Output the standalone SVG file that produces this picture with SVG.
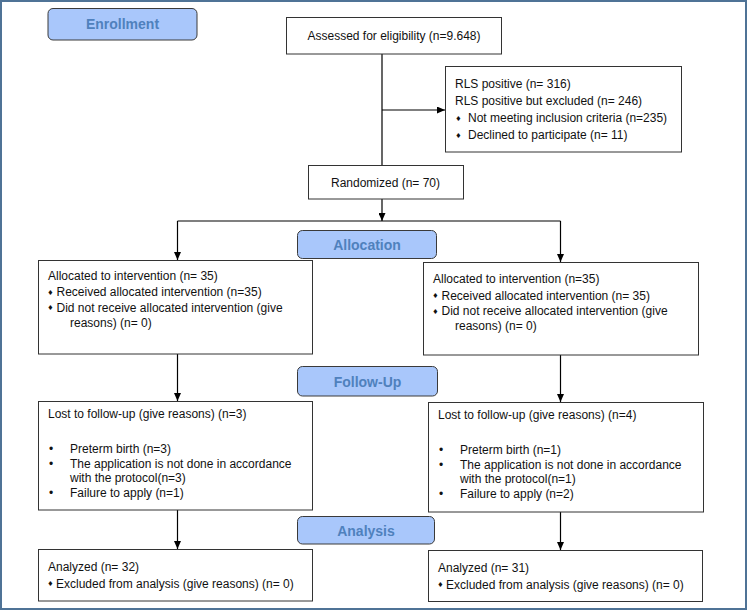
<svg xmlns="http://www.w3.org/2000/svg" width="748" height="612" viewBox="0 0 748 612">
  <style>
    .box { fill: #ffffff; stroke: #333333; stroke-width: 1; }
    .stage { fill: #a9c7fb; stroke: #3a3a3a; stroke-width: 1; }
    .stage-t { font-family: "Liberation Sans", Arial, sans-serif; font-size: 14px; font-weight: bold; fill: #4f81bd; text-anchor: middle; }
    .t { font-family: "Liberation Sans", Arial, sans-serif; font-size: 12px; fill: #111111; }
    .dia { font-family: "DejaVu Sans", sans-serif; font-size: 7px; fill: #111111; text-anchor: middle; }
    .dot { font-family: "Liberation Sans", Arial, sans-serif; font-size: 12px; fill: #111111; text-anchor: middle; }
    .c { fill: none; stroke: #000000; stroke-width: 1.2; }
    .ca { fill: none; stroke: #000000; stroke-width: 1.2; marker-end: url(#arrow); }
  </style>
  <defs>
    <marker id="arrow" markerUnits="userSpaceOnUse" markerWidth="8" markerHeight="7" refX="8" refY="3.5" orient="auto">
      <path d="M0,0 L8,3.5 L0,7 z" fill="#000000"/>
    </marker>
  </defs>

  <!-- outer frame -->
  <rect x="1" y="1" width="745" height="608" fill="#ffffff" stroke="#4f7396" stroke-width="2"/>

  <!-- connectors -->
  <g id="connectors">
    <path class="c" d="M382,54 V165"/>
    <path class="ca" d="M382,110 H445"/>
    <path class="ca" d="M382,199 V221"/>
    <path class="c" d="M177.5,221 H560.5"/>
    <path class="ca" d="M177.5,221 V260"/>
    <path class="ca" d="M560.5,221 V262"/>
    <path class="ca" d="M177.5,354 V401"/>
    <path class="ca" d="M560.5,355 V402"/>
    <path class="ca" d="M177.5,510 V549"/>
    <path class="ca" d="M560.5,512 V550"/>
  </g>

  <!-- stage labels -->
  <g id="stage-enrollment">
    <rect class="stage" x="48" y="8.5" width="149" height="31.5" rx="5"/>
    <text class="stage-t" x="122.5" y="29">Enrollment</text>
  </g>
  <g id="stage-allocation">
    <rect class="stage" x="297.5" y="230.5" width="139" height="28" rx="5"/>
    <text class="stage-t" x="367" y="249.5">Allocation</text>
  </g>
  <g id="stage-followup">
    <rect class="stage" x="297.5" y="366.5" width="140" height="29.5" rx="5"/>
    <text class="stage-t" x="367.5" y="386.5">Follow-Up</text>
  </g>
  <g id="stage-analysis">
    <rect class="stage" x="297.5" y="516.5" width="137" height="27.5" rx="5"/>
    <text class="stage-t" x="366" y="535.5">Analysis</text>
  </g>

  <!-- enrollment -->
  <g id="assessed">
    <rect class="box" x="286.5" y="17.5" width="215" height="36.5"/>
    <text class="t" x="394" y="40" text-anchor="middle">Assessed for eligibility (n=9.648)</text>
  </g>
  <g id="excluded">
    <rect class="box" x="445.5" y="66.5" width="236" height="85.5"/>
    <text class="t" x="455" y="88">RLS positive (n= 316)</text>
    <text class="t" x="455" y="105">RLS positive but excluded (n= 246)</text>
    <text class="dia" x="458.5" y="120.5">♦</text>
    <text class="t" x="468" y="122">Not meeting inclusion criteria (n=235)</text>
    <text class="dia" x="458.5" y="137.5">♦</text>
    <text class="t" x="468" y="139">Declined to participate (n= 11)</text>
  </g>
  <g id="randomized">
    <rect class="box" x="308.5" y="165.5" width="155" height="33.5"/>
    <text class="t" x="385.5" y="186.5" text-anchor="middle">Randomized (n= 70)</text>
  </g>

  <!-- allocation -->
  <g id="alloc-left">
    <rect class="box" x="38.5" y="260.5" width="274" height="93.5"/>
    <text class="t" x="48" y="279.5">Allocated to intervention (n= 35)</text>
    <text class="dia" x="50.5" y="294.5">♦</text>
    <text class="t" x="56.5" y="296">Received allocated intervention (n=35)</text>
    <text class="dia" x="50.5" y="310">♦</text>
    <text class="t" x="56.5" y="311.5">Did not receive allocated intervention (give</text>
    <text class="t" x="70" y="326.5">reasons) (n= 0)</text>
  </g>
  <g id="alloc-right">
    <rect class="box" x="423.5" y="262.5" width="275" height="92.5"/>
    <text class="t" x="433" y="283">Allocated to intervention (n=35)</text>
    <text class="dia" x="435.5" y="298">♦</text>
    <text class="t" x="441.5" y="299.5">Received allocated intervention (n= 35)</text>
    <text class="dia" x="435.5" y="313.5">♦</text>
    <text class="t" x="441.5" y="315">Did not receive allocated intervention (give</text>
    <text class="t" x="455" y="330">reasons) (n= 0)</text>
  </g>

  <!-- follow-up -->
  <g id="follow-left">
    <rect class="box" x="38.5" y="401.5" width="274" height="108.5"/>
    <text class="t" x="48" y="418">Lost to follow-up (give reasons) (n=3)</text>
    <text class="dot" x="51" y="453">•</text>
    <text class="t" x="70" y="453">Preterm birth (n=3)</text>
    <text class="dot" x="51" y="467.5">•</text>
    <text class="t" x="70" y="467.5">The application is not done in accordance</text>
    <text class="t" x="70" y="482">with the protocol(n=3)</text>
    <text class="dot" x="51" y="496.5">•</text>
    <text class="t" x="70" y="496.5">Failure to apply (n=1)</text>
  </g>
  <g id="follow-right">
    <rect class="box" x="428.5" y="402.5" width="275" height="109.5"/>
    <text class="t" x="438" y="419">Lost to follow-up (give reasons) (n=4)</text>
    <text class="dot" x="441" y="454">•</text>
    <text class="t" x="460" y="454">Preterm birth (n=1)</text>
    <text class="dot" x="441" y="468.5">•</text>
    <text class="t" x="460" y="468.5">The application is not done in accordance</text>
    <text class="t" x="460" y="483">with the protocol(n=1)</text>
    <text class="dot" x="441" y="497.5">•</text>
    <text class="t" x="460" y="497.5">Failure to apply (n=2)</text>
  </g>

  <!-- analysis -->
  <g id="analysis-left">
    <rect class="box" x="38.5" y="549.5" width="274" height="51.5"/>
    <text class="t" x="48" y="571">Analyzed (n= 32)</text>
    <text class="dia" x="50.5" y="586">♦</text>
    <text class="t" x="56" y="587.5">Excluded from analysis (give reasons) (n= 0)</text>
  </g>
  <g id="analysis-right">
    <rect class="box" x="428.5" y="550.5" width="274" height="51"/>
    <text class="t" x="438" y="572">Analyzed (n= 31)</text>
    <text class="dia" x="440.5" y="587">♦</text>
    <text class="t" x="446" y="588.5">Excluded from analysis (give reasons) (n= 0)</text>
  </g>
</svg>
